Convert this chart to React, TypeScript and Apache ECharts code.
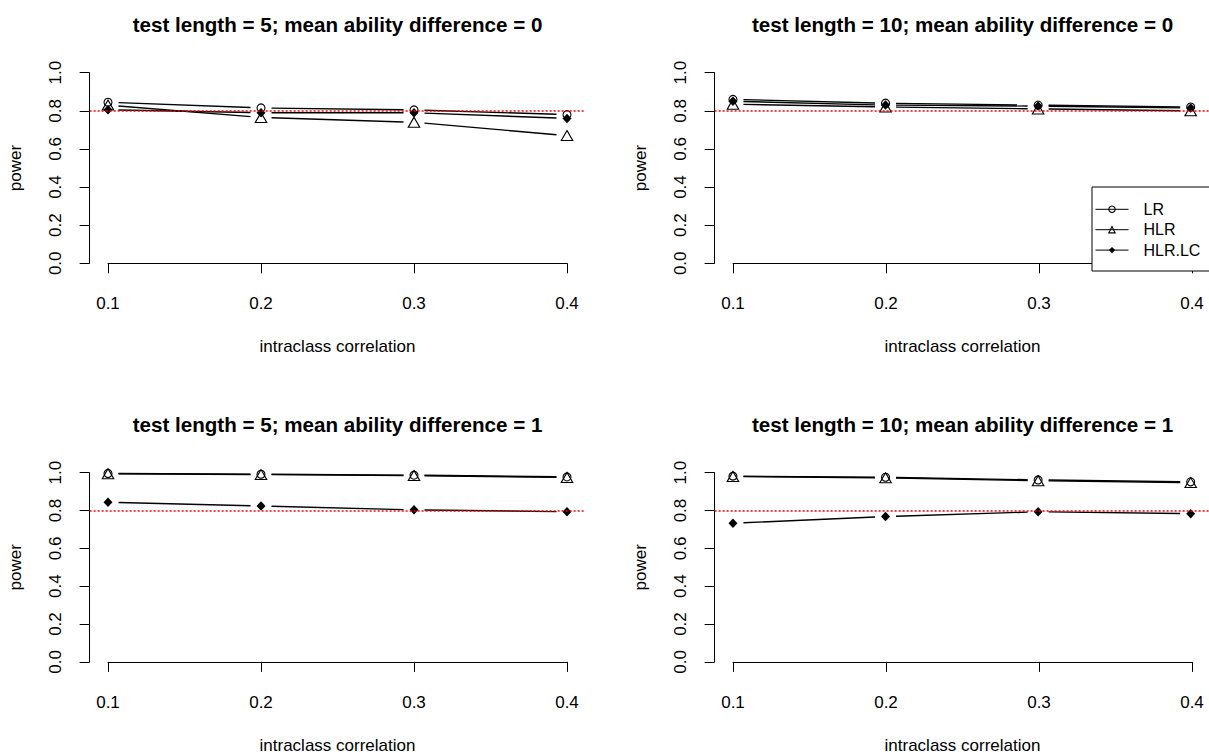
import React, { useEffect, useRef } from "react";
import * as echarts from "echarts";

// ---------- data ----------
const ICC = [0.1, 0.2, 0.3, 0.4];
const SERIES_NAMES = ["LR", "HLR", "HLR.LC"];
const PANEL_TITLES = [
  "test length = 5; mean ability difference = 0",
  "test length = 10; mean ability difference = 0",
  "test length = 5; mean ability difference = 1",
  "test length = 10; mean ability difference = 1",
];
const X_TITLE = "intraclass correlation";
const Y_TITLE = "power";

const LR_T5_D0 = [0.845, 0.815, 0.805, 0.78];
const HLR_T5_D0 = [0.83, 0.765, 0.74, 0.67];
const HLRLC_T5_D0 = [0.805, 0.79, 0.79, 0.76];

const LR_T10_D0 = [0.86, 0.84, 0.83, 0.82];
const HLR_T10_D0 = [0.835, 0.82, 0.81, 0.8];
const HLRLC_T10_D0 = [0.85, 0.83, 0.825, 0.815];

const LR_T5_D1 = [0.996, 0.992, 0.987, 0.978];
const HLR_T5_D1 = [0.995, 0.99, 0.985, 0.975];
const HLRLC_T5_D1 = [0.845, 0.825, 0.805, 0.795];

const LR_T10_D1 = [0.982, 0.976, 0.962, 0.952];
const HLR_T10_D1 = [0.98, 0.973, 0.958, 0.948];
const HLRLC_T10_D1 = [0.735, 0.77, 0.795, 0.785];

const TARGET_POWER = 0.8;
const X_TICK_RANGE = [0.1, 0.4];
const X_TICK_STEP = 0.1;
const Y_TICK_RANGE = [0, 1];
const Y_TICK_STEP = 0.2;

const PANEL_VALUES = [
  [LR_T5_D0, HLR_T5_D0, HLRLC_T5_D0],
  [LR_T10_D0, HLR_T10_D0, HLRLC_T10_D0],
  [LR_T5_D1, HLR_T5_D1, HLRLC_T5_D1],
  [LR_T10_D1, HLR_T10_D1, HLRLC_T10_D1],
];

// ---------- layout / style ----------
const FONT = "'Liberation Sans', Arial, Helvetica, sans-serif";
const TICK_LEFT = 108;
const TICK_W = 459;
const TICK_TOP = 72.7;
const TICK_H = 190.6;
const COL_DX = 625;
const ROW_DY = 400;
const EXPAND = 0.04; // R's default 4% axis expansion
const X_PAD = TICK_W * EXPAND;
const Y_PAD = TICK_H * EXPAND;
const GAP = 10.5; // gap around points (type = "b")
const LINE_W = 1.4;

const OPEN_STYLE = { color: "rgba(0,0,0,0)", borderColor: "#000", borderWidth: 1.1 };
const FILLED_STYLE = { color: "#000", borderColor: "#000", borderWidth: 0 };
const SYMBOLS: any[] = [
  { symbol: "circle", symbolSize: 8, itemStyle: OPEN_STYLE },
  { symbol: "triangle", symbolSize: [11.5, 10], itemStyle: OPEN_STYLE },
  { symbol: "diamond", symbolSize: [9, 9.5], itemStyle: FILLED_STYLE },
];

function buildOption() {
  const xSpan = X_TICK_RANGE[1] - X_TICK_RANGE[0];
  const ySpan = Y_TICK_RANGE[1] - Y_TICK_RANGE[0];
  const grid: any[] = [];
  const xAxis: any[] = [];
  const yAxis: any[] = [];
  const series: any[] = [];
  const graphic: any[] = [];

  // data grids (full plot region)
  for (let p = 0; p < 4; p++) {
    const c = p % 2;
    const r = Math.floor(p / 2);
    grid.push({
      left: TICK_LEFT + c * COL_DX - X_PAD,
      top: TICK_TOP + r * ROW_DY - Y_PAD,
      width: TICK_W + 2 * X_PAD,
      height: TICK_H + 2 * Y_PAD,
      containLabel: false,
    });
    xAxis.push({
      type: "value",
      gridIndex: p,
      show: false,
      min: X_TICK_RANGE[0] - EXPAND * xSpan,
      max: X_TICK_RANGE[1] + EXPAND * xSpan,
    });
    yAxis.push({
      type: "value",
      gridIndex: p,
      show: false,
      min: Y_TICK_RANGE[0] - EXPAND * ySpan,
      max: Y_TICK_RANGE[1] + EXPAND * ySpan,
    });
  }
  // axis grids (tick range), R-style detached axes
  for (let p = 0; p < 4; p++) {
    const c = p % 2;
    const r = Math.floor(p / 2);
    grid.push({
      left: TICK_LEFT + c * COL_DX,
      top: TICK_TOP + r * ROW_DY,
      width: TICK_W,
      height: TICK_H,
      containLabel: false,
    });
    xAxis.push({
      type: "value",
      gridIndex: 4 + p,
      min: X_TICK_RANGE[0],
      max: X_TICK_RANGE[1],
      interval: X_TICK_STEP,
      offset: Y_PAD,
      axisLine: { show: true, lineStyle: { color: "#000", width: 1 } },
      axisTick: { show: true, length: 10, lineStyle: { color: "#000", width: 1 } },
      axisLabel: {
        margin: 24,
        fontSize: 17,
        color: "#000",
        fontFamily: FONT,
        formatter: (v: number) => v.toFixed(1),
      },
      splitLine: { show: false },
      name: X_TITLE,
      nameLocation: "middle",
      nameGap: 67.5,
      nameTextStyle: { fontSize: 17, color: "#000", fontFamily: FONT },
    });
    yAxis.push({
      type: "value",
      gridIndex: 4 + p,
      min: Y_TICK_RANGE[0],
      max: Y_TICK_RANGE[1],
      interval: Y_TICK_STEP,
      offset: X_PAD,
      axisLine: { show: true, lineStyle: { color: "#000", width: 1 } },
      axisTick: { show: true, length: 10, lineStyle: { color: "#000", width: 1 } },
      axisLabel: {
        rotate: 90,
        margin: 25.5,
        fontSize: 17,
        color: "#000",
        fontFamily: FONT,
        formatter: (v: number) => v.toFixed(1),
      },
      splitLine: { show: false },
      name: Y_TITLE,
      nameLocation: "middle",
      nameGap: 66,
      nameTextStyle: { fontSize: 17, color: "#000", fontFamily: FONT },
    });

    graphic.push({
      type: "text",
      x: TICK_LEFT + c * COL_DX + TICK_W / 2,
      y: 24.2 + r * ROW_DY,
      silent: true,
      style: {
        text: PANEL_TITLES[p],
        fontSize: 20.6,
        fontWeight: "bold",
        fontFamily: FONT,
        fill: "#000",
        align: "center",
        verticalAlign: "middle",
        textAlign: "center",
        textVerticalAlign: "middle",
      },
    });
  }

  // series
  for (let p = 0; p < 4; p++) {
    PANEL_VALUES[p].forEach((vals, s) => {
      const segs = ICC.slice(0, -1).map((x, i) => [x, vals[i], ICC[i + 1], vals[i + 1]]);
      series.push({
        type: "custom",
        name: `seg-${p}-${s}`,
        xAxisIndex: p,
        yAxisIndex: p,
        silent: true,
        clip: false,
        encode: { x: [0, 2], y: [1, 3] },
        data: segs,
        z: 2,
        renderItem: (_params: any, api: any) => {
          const p1 = api.coord([api.value(0), api.value(1)]);
          const p2 = api.coord([api.value(2), api.value(3)]);
          const dx = p2[0] - p1[0];
          const dy = p2[1] - p1[1];
          const len = Math.hypot(dx, dy);
          if (len <= 2 * GAP) return null;
          const ux = dx / len;
          const uy = dy / len;
          return {
            type: "line",
            shape: {
              x1: p1[0] + ux * GAP,
              y1: p1[1] + uy * GAP,
              x2: p2[0] - ux * GAP,
              y2: p2[1] - uy * GAP,
            },
            style: { stroke: "#000", lineWidth: LINE_W, fill: null },
          };
        },
      });
      const sym = SYMBOLS[s];
      const lineSeries: any = {
        type: "line",
        name: SERIES_NAMES[s],
        xAxisIndex: p,
        yAxisIndex: p,
        silent: true,
        clip: false,
        color: "#000",
        symbol: sym.symbol,
        symbolSize: sym.symbolSize,
        showSymbol: true,
        showAllSymbol: true,
        itemStyle: sym.itemStyle,
        lineStyle: { width: 0, opacity: 0 },
        emphasis: { disabled: true },
        z: 3,
        data: ICC.map((x, i) => [x, vals[i]]),
      };
      if (s === 0) {
        lineSeries.markLine = {
          silent: true,
          symbol: ["none", "none"],
          label: { show: false },
          lineStyle: { color: "#ff0000", type: [2, 2], width: 1.6, opacity: 1 },
          data: [{ yAxis: TARGET_POWER }],
          z: 4,
        };
      }
      series.push(lineSeries);
    });
  }

  return {
    animation: false,
    backgroundColor: "#fff",
    textStyle: { fontFamily: FONT },
    grid,
    xAxis,
    yAxis,
    series,
    graphic,
    legend: {
      show: true,
      orient: "vertical",
      left: 1092,
      top: 187,
      selectedMode: false,
      itemWidth: 33,
      itemHeight: 8,
      itemGap: 4.4,
      padding: [14.3, 10, 12.9, 3],
      borderColor: "#000",
      borderWidth: 1,
      borderRadius: 0,
      backgroundColor: "#fff",
      textStyle: { fontSize: 16, color: "#000", fontFamily: FONT, padding: [0, 0, 0, 10] },
      lineStyle: { color: "#000", width: 1, opacity: 1, type: "solid" },
      data: SERIES_NAMES.map((n, i) => ({
        name: n,
        itemStyle: { ...SYMBOLS[i].itemStyle, opacity: 1 },
        lineStyle: { color: "#000", width: 1, opacity: 1, type: "solid" },
      })),
    },
  };
}

export default function App() {
  const ref = useRef<HTMLDivElement>(null);
  useEffect(() => {
    if (!ref.current) return;
    const chart = echarts.init(ref.current, null, { renderer: "svg" });
    chart.setOption(buildOption() as any);
    return () => chart.dispose();
  }, []);
  return (
    <div
      ref={ref}
      style={{ position: "fixed", left: 0, top: 0, width: 1209, height: 755, background: "#fff" }}
    />
  );
}
